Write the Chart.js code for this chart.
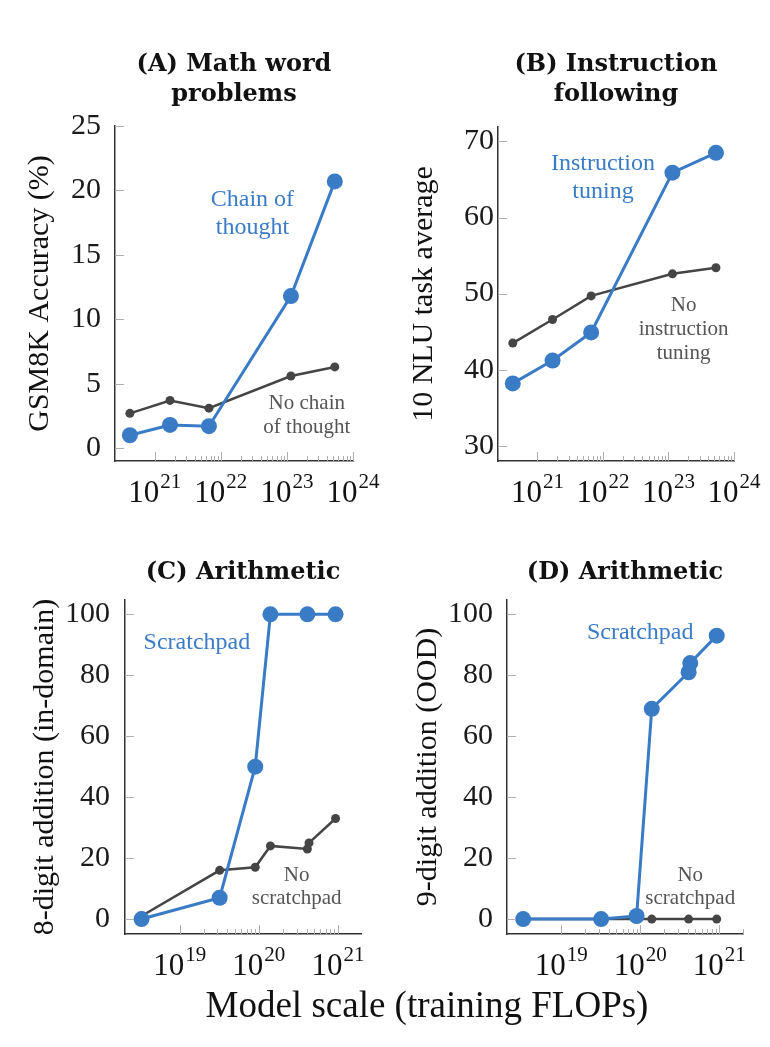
<!DOCTYPE html>
<html>
<head>
<meta charset="utf-8">
<script src="https://cdn.jsdelivr.net/npm/chart.js@4.4.1/dist/chart.umd.min.js"></script>
<style>
  body { margin: 0; background: #fff; }
  #wrap { position: relative; width: 770px; height: 1047px; }
  canvas { position: absolute; }
  #xlabel {
    position: absolute; top: 985px; left: 427px; transform: translateX(-50%);
    font: 37px/40px "Liberation Serif", serif; color: #111; white-space: nowrap;
  }
</style>
</head>
<body>
<div id="wrap">
  <canvas id="chartA" width="385" height="520" style="left:0;top:0"></canvas>
  <canvas id="chartB" width="385" height="520" style="left:385px;top:0"></canvas>
  <canvas id="chartC" width="385" height="470" style="left:0;top:520px"></canvas>
  <canvas id="chartD" width="385" height="470" style="left:385px;top:520px"></canvas>
  <div id="xlabel">Model scale (training FLOPs)</div>
</div>
<script>
// panels A and B share the same model sizes
const flopsAB = [4.2e20, 1.7e21, 6.6e21, 1.15e23, 5.3e23];
const cotAcc = [1.0, 1.8, 1.7, 11.8, 20.7];
const noCotAcc = [2.7, 3.7, 3.1, 5.6, 6.3];
const tunedAvg = [38.2, 41.2, 44.9, 65.9, 68.5];
const untunedAvg = [43.5, 46.6, 49.7, 52.6, 53.4];

// panels C and D (null = no run at that size)
const flopsCD = [3.3e18, 3.2e19, 9.0e19, 1.4e20, 4.1e20, 4.3e20, 9.3e20];
const padInDomain = [0, 7, 50, 100, 100, null, 100];
const noPadInDomain = [1, 16, 17, 24, 23, 25, 33];
const padOOD = [0, 0, 1, 69, 81, 84, 93];
const noPadOOD = [0, 0, 0, 0, 0, null, 0];

const ticksA = [0, 5, 10, 15, 20, 25];
const ticksB = [30, 40, 50, 60, 70];
const ticksCD = [0, 20, 40, 60, 80, 100];

const BLUE = '#3a7bc6';
const GRAY = '#454545';
const NOTE_GRAY = '#555';
const SERIF = '"Liberation Serif", "Times New Roman", serif';

function pts(xs, ys) {
  const out = [];
  xs.forEach((x, i) => { if (ys[i] !== null) out.push({x: x, y: ys[i]}); });
  return out;
}

// inward tick marks + 10^n labels drawn off the scales
const axisMarks = {
  id: 'axisMarks',
  afterDraw(chart) {
    const {ctx, chartArea: a, scales: {x, y}} = chart;
    ctx.save();
    ctx.strokeStyle = '#b0b0b0';
    ctx.lineWidth = 1;
    ctx.beginPath();
    y.ticks.forEach(t => {
      const py = Math.round(y.getPixelForValue(t.value)) + 0.5;
      ctx.moveTo(a.left, py);
      ctx.lineTo(a.left + 9, py);
    });
    const lo = Math.ceil(Math.log10(x.min) - 1e-9);
    const hi = Math.floor(Math.log10(x.max) + 1e-9);
    for (let e = lo; e <= hi; e++) {
      for (let k = 1; k <= 9; k++) {
        const v = k * Math.pow(10, e);
        if (v > x.max * 1.001) break;
        const px = Math.round(x.getPixelForValue(v)) + 0.5;
        ctx.moveTo(px, a.bottom);
        ctx.lineTo(px, a.bottom - (k === 1 ? 9 : 5));
      }
    }
    ctx.stroke();

    ctx.fillStyle = '#111';
    ctx.textAlign = 'left';
    ctx.textBaseline = 'alphabetic';
    const base = a.bottom + 41;
    for (let e = lo; e <= hi; e++) {
      const px = x.getPixelForValue(Math.pow(10, e));
      ctx.font = '31px ' + SERIF;
      const w1 = ctx.measureText('10').width;
      ctx.font = '21px ' + SERIF;
      const w2 = ctx.measureText(String(e)).width;
      const left = px - (w1 + 1 + w2) / 2;
      ctx.font = '31px ' + SERIF;
      ctx.fillText('10', left, base);
      ctx.font = '21px ' + SERIF;
      ctx.fillText(String(e), left + w1 + 1, base - 14);
    }
    ctx.restore();
  }
};

function notesPlugin(items) {
  return {
    id: 'notes',
    afterDatasetsDraw(chart) {
      const {ctx, scales: {x, y}} = chart;
      ctx.save();
      ctx.textAlign = 'center';
      ctx.textBaseline = 'middle';
      items.forEach(n => {
        ctx.font = n.size + 'px ' + SERIF;
        ctx.fillStyle = n.color;
        const px = x.getPixelForValue(n.x);
        const py = y.getPixelForValue(n.y);
        n.lines.forEach((t, i) => ctx.fillText(t, px, py + i * n.gap));
      });
      ctx.restore();
    }
  };
}

function makeChart(id, p) {
  return new Chart(document.getElementById(id), {
    type: 'line',
    data: {
      datasets: [
        {data: p.blue, borderColor: BLUE, backgroundColor: BLUE, borderWidth: 3,
         pointRadius: 8, pointBorderWidth: 0, pointBackgroundColor: BLUE, tension: 0, clip: false},
        {data: p.gray, borderColor: GRAY, backgroundColor: GRAY, borderWidth: 2.5,
         pointRadius: 4.5, pointBorderWidth: 0, pointBackgroundColor: GRAY, tension: 0, clip: false}
      ]
    },
    options: {
      responsive: false,
      animation: false,
      devicePixelRatio: 1,
      layout: {padding: {left: 0, right: p.padRight, top: 0, bottom: 0}},
      plugins: {
        legend: {display: false},
        tooltip: {enabled: false},
        title: {
          display: true,
          text: p.title,
          fullSize: false,
          color: '#111',
          font: {family: '"DejaVu Serif", serif', weight: 'bold', size: 24, lineHeight: 1.25},
          padding: {top: p.titleTop, bottom: p.titleBottom}
        }
      },
      scales: {
        x: {
          type: 'logarithmic',
          min: p.xMin,
          max: p.xMax,
          grid: {display: false, drawTicks: false},
          border: {display: true, color: '#333', width: 1.5},
          ticks: {display: false},
          afterFit: s => { s.height = p.xHeight; }
        },
        y: {
          type: 'linear',
          min: p.yMin,
          max: p.yMax,
          grid: {display: false, drawTicks: false},
          border: {display: true, color: '#333', width: 1.5},
          ticks: {font: {family: SERIF, size: 30}, color: '#1a1a1a', padding: p.tickPad},
          afterBuildTicks: s => { s.ticks = p.yTicks.map(v => ({value: v})); },
          title: {
            display: true,
            text: p.yTitle,
            color: '#111',
            font: {family: SERIF, size: 30, lineHeight: 1.2},
            padding: {top: p.yTitlePad, bottom: 0}
          },
          afterFit: s => { s.width = p.yWidth; }
        }
      }
    },
    plugins: [axisMarks, notesPlugin(p.notes)]
  });
}

makeChart('chartA', {
  title: ['(A) Math word', 'problems'], titleTop: 50, titleBottom: 16,
  blue: pts(flopsAB, cotAcc), gray: pts(flopsAB, noCotAcc),
  xMin: 2.5e20, xMax: 1e24, yMin: -1, yMax: 25, yTicks: ticksA,
  yTitle: 'GSM8K Accuracy (%)', yTitlePad: 22, yWidth: 115, tickPad: 14,
  padRight: 32, xHeight: 59,
  notes: [
    {lines: ['Chain of', 'thought'], x: 3.0e22, y: 19.3, gap: 28, size: 24, color: BLUE},
    {lines: ['No chain', 'of thought'], x: 2.0e23, y: 3.5, gap: 24, size: 21, color: NOTE_GRAY}
  ]
});

makeChart('chartB', {
  title: ['(B) Instruction', 'following'], titleTop: 50, titleBottom: 17,
  blue: pts(flopsAB, tunedAvg), gray: pts(flopsAB, untunedAvg),
  xMin: 2.5e20, xMax: 1e24, yMin: 28, yMax: 71.9, yTicks: ticksB,
  yTitle: '10 NLU task average', yTitlePad: 21, yWidth: 113, tickPad: 4,
  padRight: 36, xHeight: 59,
  notes: [
    {lines: ['Instruction', 'tuning'], x: 1.0e22, y: 67.1, gap: 28, size: 24, color: BLUE},
    {lines: ['No', 'instruction', 'tuning'], x: 1.7e23, y: 48.4, gap: 24, size: 21, color: NOTE_GRAY}
  ]
});

makeChart('chartC', {
  title: ['(C) Arithmetic'], titleTop: 38, titleBottom: 12,
  blue: pts(flopsCD, padInDomain), gray: pts(flopsCD, noPadInDomain),
  xMin: 2.04e18, xMax: 1.95e21, yMin: -4.9, yMax: 104.7, yTicks: ticksCD,
  yTitle: '8-digit addition (in-domain)', yTitlePad: 27, yWidth: 125, tickPad: 15,
  padRight: 24, xHeight: 56,
  notes: [
    {lines: ['Scratchpad'], x: 1.65e19, y: 90.7, gap: 0, size: 24, color: BLUE},
    {lines: ['No', 'scratchpad'], x: 3.0e20, y: 14.4, gap: 23, size: 21, color: NOTE_GRAY}
  ]
});

makeChart('chartD', {
  title: ['(D) Arithmetic'], titleTop: 38, titleBottom: 12,
  blue: pts(flopsCD, padOOD), gray: pts(flopsCD, noPadOOD),
  xMin: 2.06e18, xMax: 2.0e21, yMin: -4.9, yMax: 104.7, yTicks: ticksCD,
  yTitle: '9-digit addition (OOD)', yTitlePad: 25, yWidth: 122, tickPad: 14,
  padRight: 27, xHeight: 56,
  notes: [
    {lines: ['Scratchpad'], x: 1.0e20, y: 94, gap: 0, size: 24, color: BLUE},
    {lines: ['No', 'scratchpad'], x: 4.3e20, y: 14.4, gap: 23, size: 21, color: NOTE_GRAY}
  ]
});
</script>
</body>
</html>
